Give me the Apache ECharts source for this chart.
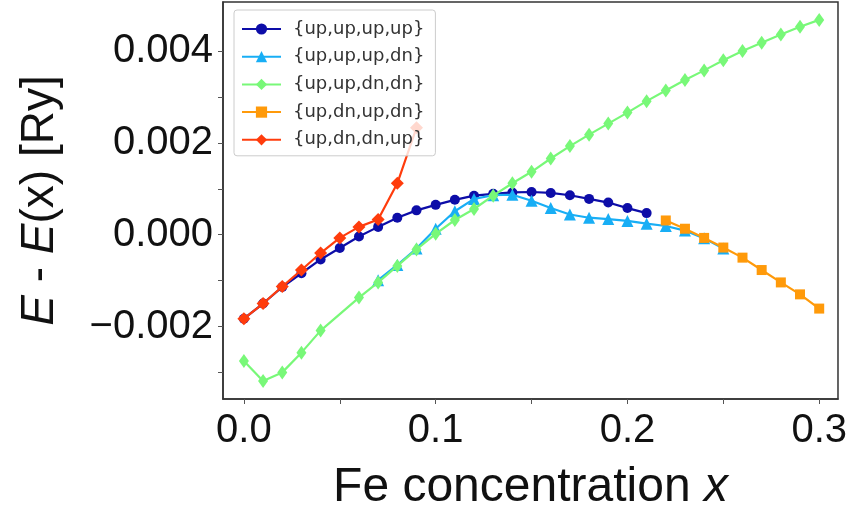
<!DOCTYPE html>
<html>
<head>
<meta charset="utf-8">
<script src="https://cdn.jsdelivr.net/npm/echarts@6/dist/echarts.min.js"></script>
<style>html,body{margin:0;padding:0;background:#fff;}#c{width:850px;height:517px;}</style>
</head>
<body>
<div id="c"></div>
<script>
// ---- data ----
const seriesNames = ['{up,up,up,up}', '{up,up,up,dn}', '{up,up,dn,dn}', '{up,dn,up,dn}', '{up,dn,dn,up}'];

const xBlue = [0.00,0.01,0.02,0.03,0.04,0.05,0.06,0.07,0.08,0.09,0.10,0.11,0.12,0.13,0.14,0.15,0.16,0.17,0.18,0.19,0.20,0.21];
const yBlue = [-0.00183,-0.00150,-0.00114,-0.00084,-0.00054,-0.00029,-0.00004,0.00017,0.00037,0.00053,0.00065,0.00076,0.00085,0.00089,0.00092,0.00093,0.00091,0.00086,0.00078,0.00070,0.00058,0.00047];

const xCyan = [0.07,0.08,0.09,0.10,0.11,0.12,0.13,0.14,0.15,0.16,0.17,0.18,0.19,0.20,0.21,0.22,0.23,0.24,0.25];
const yCyan = [-0.00099,-0.00066,-0.00030,0.00013,0.00051,0.00078,0.00086,0.00087,0.00074,0.00058,0.00044,0.00037,0.00034,0.00030,0.00024,0.00019,0.00009,-0.00008,-0.00030];

const xGreen = [0.00,0.01,0.02,0.03,0.04,0.06,0.07,0.08,0.09,0.10,0.11,0.12,0.13,0.14,0.15,0.16,0.17,0.18,0.19,0.20,0.21,0.22,0.23,0.24,0.25,0.26,0.27,0.28,0.29,0.30];
const yGreen = [-0.00275,-0.00319,-0.00300,-0.00257,-0.00209,-0.00137,-0.00104,-0.00068,-0.00032,0.00002,0.00032,0.00056,0.00085,0.00112,0.00137,0.00166,0.00193,0.00218,0.00242,0.00266,0.00291,0.00314,0.00337,0.00358,0.00380,0.00400,0.00418,0.00436,0.00453,0.00468];

const xOrange = [0.22,0.23,0.24,0.25,0.26,0.27,0.28,0.29,0.30];
const yOrange = [0.00031,0.00013,-0.00007,-0.00028,-0.00050,-0.00077,-0.00104,-0.00130,-0.00161];

const xRed = [0.00,0.01,0.02,0.03,0.04,0.05,0.06,0.07,0.08,0.09];
const yRed = [-0.00183,-0.00150,-0.00113,-0.00077,-0.00040,-0.00007,0.00017,0.00033,0.00112,0.00233];

const xTickValues = [0.00,0.05,0.10,0.15,0.20,0.25,0.30];
const xLabelValues = [0.0,0.1,0.2,0.3];
const yTickValues = [-0.003,-0.002,-0.001,0.000,0.001,0.002,0.003,0.004];
const yLabelValues = [-0.002,0.000,0.002,0.004];

// ---- chart ----
const zip = (xs, ys) => xs.map((x, i) => [x, ys[i]]);
const FONT = '"Liberation Sans", Arial, sans-serif';
const colors = ['#0d0da8', '#18aef5', '#78f878', '#ff9a0a', '#ff3c0c'];
const symbols = ['circle', 'triangle', 'diamond', 'rect', 'diamond'];
const sizes = [10, 12, [10, 14], 10, 13];
const xsAll = [xBlue, xCyan, xGreen, xOrange, xRed];
const ysAll = [yBlue, yCyan, yGreen, yOrange, yRed];

const chart = echarts.init(document.getElementById('c'), null, {renderer: 'canvas'});
chart.setOption({
  animation: false,
  backgroundColor: '#fff',
  grid: {left: 223, top: 2, width: 619, height: 399, show: true, borderColor: '#333', borderWidth: 1.5, backgroundColor: 'transparent'},
  legend: {
    left: 234, top: 10, orient: 'vertical',
    padding: [9, 11, 6, 7],
    itemWidth: 39, itemHeight: 14, itemGap: 7.7,
    backgroundColor: 'rgba(255,255,255,0.8)', borderColor: '#cccccc', borderWidth: 1, borderRadius: 3,
    textStyle: {fontFamily: '"DejaVu Sans", sans-serif', fontSize: 18, color: '#333', lineHeight: 20, padding: [0, 0, 0, 7]},
    data: seriesNames
  },
  xAxis: {
    type: 'value', min: -0.0109, max: 0.3098,
    splitLine: {show: false},
    axisLine: {show: true, onZero: false, lineStyle: {color: '#333', width: 1.5}},
    axisTick: {show: true, inside: false, length: 5, customValues: xTickValues, lineStyle: {color: '#555'}},
    axisLabel: {customValues: xLabelValues, fontFamily: FONT, fontSize: 40, color: '#111', margin: 12,
      formatter: v => v.toFixed(1)},
    name: 'Fe concentration {i|x}', nameLocation: 'middle', nameGap: 65,
    nameTextStyle: {fontFamily: FONT, fontSize: 48, color: '#111',
      rich: {i: {fontFamily: FONT, fontSize: 48, fontStyle: 'italic', color: '#111'}}}
  },
  yAxis: {
    type: 'value', min: -0.00358, max: 0.00507,
    splitLine: {show: false},
    axisLine: {show: true, onZero: false, lineStyle: {color: '#333', width: 1.5}},
    axisTick: {show: true, inside: false, length: 5, customValues: yTickValues, lineStyle: {color: '#555'}},
    axisLabel: {customValues: yLabelValues, fontFamily: FONT, fontSize: 40, color: '#111', margin: 10,
      formatter: v => (v < 0 ? '\u2212' : '') + Math.abs(v).toFixed(3)},
    name: '{i|E} - {i|E}(x) [Ry]', nameLocation: 'middle', nameGap: 160, nameRotate: 90,
    nameTextStyle: {fontFamily: FONT, fontSize: 46, color: '#111',
      rich: {i: {fontFamily: FONT, fontSize: 46, fontStyle: 'italic', color: '#111'}}}
  },
  series: seriesNames.map((name, k) => ({
    name: name, type: 'line',
    data: zip(xsAll[k], ysAll[k]),
    symbol: symbols[k], symbolSize: sizes[k], showSymbol: true,
    itemStyle: {color: colors[k]},
    lineStyle: {color: colors[k], width: 2.2},
    z: 2 + k * 0.1
  }))
});
</script>
</body>
</html>
